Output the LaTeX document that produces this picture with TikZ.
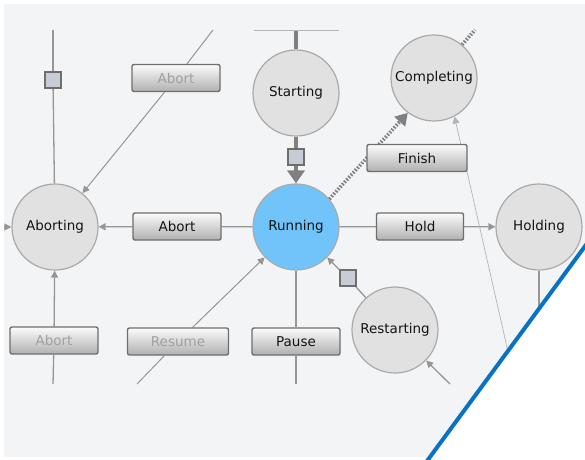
\documentclass[tikz,border=0pt]{standalone}
\usepackage{fontspec}
\setmainfont{DejaVu Sans}
\usetikzlibrary{arrows.meta}
\definecolor{bgc}{RGB}{243,244,246}
\definecolor{circf}{RGB}{225,225,225}
\definecolor{circd}{RGB}{170,170,170}
\definecolor{runf}{RGB}{112,196,250}
\definecolor{linec}{RGB}{150,150,150}
\definecolor{thickc}{RGB}{128,128,128}
\definecolor{sqf}{RGB}{200,204,214}
\definecolor{sqd}{RGB}{110,110,110}
\definecolor{btnd}{RGB}{110,110,110}
\definecolor{dis}{RGB}{160,160,160}
\definecolor{txt}{RGB}{20,20,20}
\definecolor{bluel}{RGB}{8,114,196}
\pgfdeclarelayer{back}
\pgfdeclarelayer{lines}
\pgfdeclarelayer{front}
\pgfsetlayers{back,lines,main,front}
\begin{document}
\begin{tikzpicture}[x=1pt,y=-1pt,
 state/.style={circle, draw=circd, fill=circf, line width=1.2pt, minimum size=86pt, inner sep=0pt, text=txt, font=\fontsize{13.5}{15}\selectfont},
 btn/.style={rectangle, rounded corners=2pt, draw=btnd, line width=1.4pt, top color=white!97!gray, bottom color=gray!62, minimum width=88pt, minimum height=27pt, inner sep=0pt, text=txt, font=\fontsize{13.5}{15}\selectfont},
 off/.style={text=dis},
 sq/.style={rectangle, draw=sqd, fill=sqf, line width=1.5pt, minimum size=16pt, inner sep=0pt},
 conn/.style={draw=linec, line width=1.3pt},
 diag/.style={draw=linec, line width=1pt},
 faint/.style={draw=linec!70, line width=0.7pt},
 heavy/.style={draw=thickc, line width=3.6pt},
 dots/.style={draw=thickc, line width=3.6pt, dash pattern=on 1.6pt off 1.6pt},
 tip/.style={-{Triangle[length=7pt,width=7pt]}},
]
\useasboundingbox (0,0) rectangle (585,459);
\begin{pgfonlayer}{back}
\fill[white] (0,0) rectangle (585,459);
\fill[bgc] (4,4) rectangle (585,457);
\end{pgfonlayer}

% states
\node[state] (aborting) at (55,227) {Aborting};
\node[state] (starting) at (296,93) {Starting};
\node[state] (completing) at (434,78) {Completing};
\node[state, fill=runf] (running) at (296,227) {Running};
\node[state] (holding) at (539,227) {Holding};
\node[state] (restarting) at (395,330) {Restarting};

% buttons
\node[btn,off] (abT) at (176,78) {Abort};
\node[btn] (abM) at (177,226.5) {Abort};
\node[btn, minimum width=100pt] (finish) at (417,158) {Finish};
\node[btn, minimum width=87pt] (hold) at (420,226.5) {Hold};
\node[btn,off] (abB) at (54,340.5) {Abort};
\node[btn,off,minimum width=101pt] (resume) at (178,341.5) {Resume};
\node[btn] (pause) at (296,341.5) {Pause};

% small squares
\node[sq] (sqA) at (53,80) {};
\node[sq] (sqS) at (296,157) {};
\node[sq] (sqR) at (348,278) {};

% free ends
\coordinate (aTop) at (53,30);
\coordinate (abTtop) at (213,30);
\coordinate (sTop) at (296,30);
\coordinate (hL) at (254,30);
\coordinate (hR) at (339,30);
\coordinate (cTop) at (475,30);
\coordinate (aBot) at (53,384);
\coordinate (rsBot) at (137,384);
\coordinate (pBot) at (296,384);
\coordinate (rtBot) at (450,384);
\coordinate (hBot) at (539,312);
\coordinate (cHold) at (509,356);
\coordinate (aLeft) at (4,227);

\begin{pgfonlayer}{lines}
\draw[conn] (aTop) -- (sqA);
\draw[conn] (sqA) -- (aborting);
\draw[diag] (abTtop) -- (abT);
\draw[diag,tip] (abT) -- (aborting);
\draw[heavy, line width=4pt] (sTop) -- (starting);
\draw[faint] (hL) -- (hR);
\draw[heavy] (starting) -- (sqS);
\draw[heavy, -{Triangle[length=13pt,width=17pt]}] (sqS) -- (running);
\draw[dots] (completing.50) -- (cTop);
\draw[dots, -{Triangle[length=12pt,width=14pt]}] (running.40) -- (completing.233);
\draw[conn] (running) -- (abM);
\draw[conn,tip] (abM) -- (aborting);
\draw[conn] (running) -- (hold);
\draw[conn,tip] (hold) -- (holding);
\draw[conn] (holding) -- (hBot);
\draw[faint,tip] (cHold) -- (completing.-62);
\draw[conn] (aBot) -- (abB);
\draw[conn,tip] (abB) -- (aborting);
\draw[diag] (rsBot) -- (resume);
\draw[diag,tip] (resume) -- (running);
\draw[conn] (running) -- (pause);
\draw[conn] (pause) -- (pBot);
\draw[conn] (restarting) -- (sqR);
\draw[conn,tip] (sqR) -- (running);
\draw[conn,tip] (rtBot) -- (restarting);
\draw[conn,tip] (aLeft) -- (aborting);
\end{pgfonlayer}

\begin{pgfonlayer}{front}
\fill[white] (587,243.5) -- (600,470) -- (427,461) -- cycle;
\draw[bluel, line width=4pt] (587,243.5) -- (427,461);
\end{pgfonlayer}
\end{tikzpicture}
\end{document}
